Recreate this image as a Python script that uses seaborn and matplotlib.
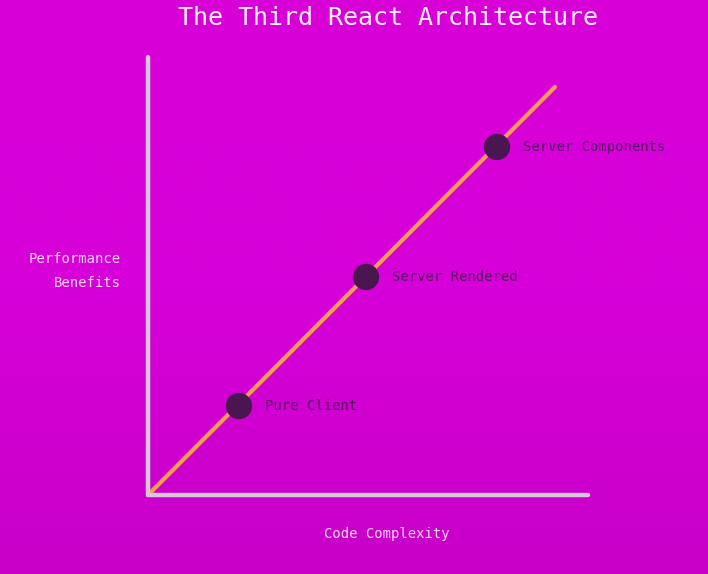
import numpy as np
import pandas as pd
import matplotlib
matplotlib.use("Agg")
import matplotlib.pyplot as plt
import seaborn as sns
from matplotlib.colors import LinearSegmentedColormap

# Data
stages = ["Pure Client", "Server Rendered", "Server Components"]
complexity = [0.91, 2.18, 3.49]
performance = [0.89, 2.18, 3.48]
trend_x = [0.0, 4.07]
trend_y = [0.0, 4.08]

title = "The Third React Architecture"
xlabel = "Code Complexity"
ylabel = "Performance\nBenefits"

sns.set_theme(style="white")
plt.rcParams['font.family'] = ['DejaVu Sans Mono', 'DejaVu Sans']

W, H = 708, 574
fig = plt.figure(figsize=(W / 100, H / 100), dpi=100)

# gradient background
bg = fig.add_axes([0, 0, 1, 1])
grad = np.linspace(0, 1, 256).reshape(-1, 1)
cmap = LinearSegmentedColormap.from_list("bg", ["#D802D8", "#D600D8", "#C800C8"])
bg.imshow(grad, aspect="auto", cmap=cmap, extent=[0, 1, 0, 1], origin="upper")
bg.set_axis_off()

x0, y0 = 148, 495
x1, y1 = 588, 57
ax = fig.add_axes([x0 / W, (H - y0) / H, (x1 - x0) / W, (y0 - y1) / H])
ax.patch.set_alpha(0)
ax.set_xlim(0, 4.40)
ax.set_ylim(0, 4.38)

line_df = pd.DataFrame({"x": trend_x, "y": trend_y})
sns.lineplot(data=line_df, x="x", y="y", ax=ax, color="#F59E52", linewidth=3,
             solid_capstyle="round", clip_on=False, zorder=2)

pts = pd.DataFrame({"x": complexity, "y": performance, "stage": stages})
sns.scatterplot(data=pts, x="x", y="y", ax=ax, color="#4A1650", s=360,
                edgecolor="none", zorder=3, clip_on=False)
for xi, yi, lab in zip(complexity, performance, stages):
    ax.annotate(lab, (xi, yi), xytext=(18.5, 0), textcoords="offset points",
                va="center", ha="left", fontsize=10, color="#581262",
                zorder=4)

for side in ["top", "right"]:
    ax.spines[side].set_visible(False)
for side in ["left", "bottom"]:
    ax.spines[side].set_color("#D9C6DA")
    ax.spines[side].set_linewidth(3.2)
    ax.spines[side].set_capstyle("round")
ax.set_xticks([])
ax.set_yticks([])
ax.set_xlabel("")
ax.set_ylabel("")

fig.text(388 / W, 1 - 18 / H, title, ha="center", va="center", fontsize=18,
         color="#FCEFFC")
fig.text(387 / W, 1 - 534 / H, xlabel, ha="center", va="center", fontsize=10,
         color="#F2D6F2")
fig.text(121 / W, 1 - 271 / H, ylabel, ha="right", va="center", fontsize=10,
         color="#F2D6F2", linespacing=1.9, multialignment="right")

fig.savefig("out.png", dpi=100)
